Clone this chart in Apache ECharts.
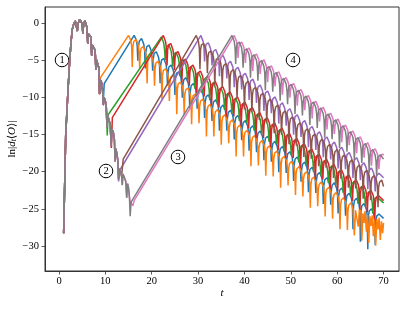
<!DOCTYPE html>
<html><head><meta charset="utf-8">
<script src="https://cdn.jsdelivr.net/npm/echarts@6/dist/echarts.min.js"></script>
<style>html,body{margin:0;padding:0;background:#fff}#c{width:407px;height:309px}</style>
</head><body><div id="c"></div>
<script>
// ---- data ----
const xTicks = [0, 10, 20, 30, 40, 50, 60, 70];
const yTicks = [-30, -25, -20, -15, -10, -5, 0];

// common early curve (drawn in grey on top)
const commonPath = [
[1.0,-28.3],[1.2,-22.5],[1.45,-15.0],[1.9,-9.5],[2.3,-5.0],[2.6,-2.5],[2.85,-0.8],[3.2,0.0],[3.5,0.35],[3.8,0.1],[3.95,-1.0],[4.1,0.0],[4.45,0.55],[4.75,0.6],[5.0,0.0],[5.15,-1.4],[5.3,-0.1],[5.6,0.4],[5.85,0.2],[6.05,-0.6],[6.2,-2.7],[6.35,-1.4],[6.65,-1.2],[6.9,-1.8],[7.05,-4.3],[7.2,-2.9],[7.5,-2.8],[7.8,-3.6],[7.95,-6.2],[8.1,-4.9],[8.35,-5.0],[8.6,-6.0],[8.75,-9.5],[8.9,-7.6],[9.15,-7.9],[9.4,-9.0],[9.55,-11.0],[9.7,-10.0],[9.95,-10.3],[10.2,-11.3],[10.35,-14.0],[10.5,-12.4],[10.8,-12.6],[11.05,-13.6],[11.25,-16.5],[11.4,-14.3],[11.7,-14.6],[11.95,-15.7],[12.1,-18.6],[12.25,-16.9],[12.5,-17.6],[12.7,-18.6],[12.85,-21.0],[13.0,-19.6],[13.25,-20.0],[13.5,-20.6],[13.65,-21.8],[13.8,-20.3],[14.1,-20.4],[14.4,-21.3],[14.6,-23.5],[14.8,-21.6],[15.0,-22.2],[15.2,-23.5],[15.35,-26.0]
];

// branch points where each run leaves the common curve, the peak, then arcs [tTop, yTop, cuspDrop]
const blueBranch = [[9.55,-10.6],[9.75,-8.1]];
const bluePeak = [16.2,-1.6];
const blueArcs = [[17.8,-2.0,3.2],[19.4,-2.9,3.6],[21.0,-3.8,3.0],[22.6,-4.7,3.8],[24.2,-5.6,3.2],[25.8,-6.5,3.6],[27.4,-7.3,3.1],[29.0,-8.1,3.7],[30.6,-8.9,3.0],[32.2,-9.6,3.5],[33.8,-10.3,3.2],[35.4,-11.0,3.8],[37.0,-11.7,3.1],[38.6,-12.4,3.6],[40.2,-13.1,3.0],[41.8,-13.8,3.7],[43.4,-14.5,3.2],[45.0,-15.2,3.6],[46.6,-15.9,3.1],[48.2,-16.6,3.8],[49.8,-17.3,3.2],[51.4,-18.0,3.6],[53.0,-18.7,3.0],[54.6,-19.4,3.7],[56.2,-20.1,3.1],[57.8,-20.8,3.9],[59.4,-21.5,3.3],[61.0,-22.2,3.8],[62.6,-22.9,3.4],[64.2,-23.6,4.5],[65.8,-24.3,5.5],[67.4,-25.0,5.8],[69.0,-25.7,4.5]];
const blueTail = [[70.0,-26.3]];

const orangeBranch = [[8.75,-9.6],[8.95,-7.3]];
const orangePeak = [15.0,-1.6];
const orangeArcs = [[16.6,-2.1,4.0],[18.2,-3.1,3.5],[19.8,-4.1,4.5],[21.4,-5.1,3.8],[23.0,-6.1,4.6],[24.6,-7.0,3.9],[26.2,-7.9,4.8],[27.8,-8.7,4.0],[29.4,-9.5,4.5],[31.0,-10.2,3.6],[32.6,-10.9,4.7],[34.2,-11.6,4.0],[35.8,-12.3,4.4],[37.4,-13.0,3.5],[39.0,-13.7,4.6],[40.6,-14.4,3.9],[42.2,-15.1,4.5],[43.8,-15.8,3.7],[45.4,-16.5,4.4],[47.0,-17.2,3.8],[48.6,-17.9,4.6],[50.2,-18.6,3.6],[51.8,-19.3,4.2],[53.4,-20.0,3.7],[55.0,-20.7,4.5],[56.6,-21.4,3.6],[58.2,-22.1,4.3],[59.8,-22.8,3.9],[61.4,-23.5,4.6],[63.0,-24.2,4.0]];
const orangeTail = [[63.4,-25.0],[63.7,-28.6],[63.95,-25.2],[64.3,-25.1],[64.55,-27.4],[64.8,-25.0],[65.1,-25.4],[65.3,-29.3],[65.55,-25.6],[65.8,-26.9],[66.0,-25.3],[66.3,-28.1],[66.55,-25.8],[66.8,-29.6],[67.05,-26.0],[67.3,-27.3],[67.55,-25.9],[67.8,-28.7],[68.05,-26.3],[68.3,-30.0],[68.55,-26.4],[68.8,-27.8],[69.05,-26.2],[69.3,-29.2],[69.55,-26.7],[69.8,-28.3],[70.0,-26.9]];

const greenBranch = [[10.4,-15.1],[10.6,-12.3]];
const greenPeak = [22.1,-1.8];
const greenArcs = [[23.7,-2.9,2.6],[25.3,-3.9,2.4],[26.9,-4.9,2.7],[28.5,-5.8,2.3],[30.1,-6.6,2.6],[31.7,-7.3,2.4],[33.3,-8.0,2.7],[34.9,-8.7,2.3],[36.5,-9.4,2.6],[38.1,-10.1,2.4],[39.7,-10.8,2.7],[41.3,-11.5,2.3],[42.9,-12.2,2.6],[44.5,-12.9,2.4],[46.1,-13.6,2.7],[47.7,-14.3,2.3],[49.3,-15.0,2.6],[50.9,-15.7,2.4],[52.5,-16.4,2.7],[54.1,-17.1,2.3],[55.7,-17.8,2.6],[57.3,-18.5,2.4],[58.9,-19.2,2.7],[60.5,-19.9,2.3],[62.1,-20.6,2.6],[63.7,-21.3,2.4],[65.3,-22.0,2.7],[66.9,-22.7,2.3],[68.5,-23.4,2.6]];
const greenTail = [[70.0,-24.2]];

const redBranch = [[11.3,-16.8],[11.5,-12.7]];
const redPeak = [22.5,-1.6];
const redArcs = [[24.1,-2.7,3.5],[25.7,-3.8,3.0],[27.3,-4.8,3.6],[28.9,-5.6,3.2],[30.5,-6.4,3.8],[32.1,-7.1,3.1],[33.7,-7.8,3.6],[35.3,-8.5,3.2],[36.9,-9.2,3.7],[38.5,-9.9,3.0],[40.1,-10.6,3.6],[41.7,-11.3,3.2],[43.3,-12.0,3.8],[44.9,-12.7,3.1],[46.5,-13.4,3.6],[48.1,-14.1,3.3],[49.7,-14.8,3.7],[51.3,-15.5,3.0],[52.9,-16.2,3.6],[54.5,-16.9,3.2],[56.1,-17.6,3.8],[57.7,-18.3,3.1],[59.3,-19.0,3.6],[60.9,-19.7,3.3],[62.5,-20.4,3.7],[64.1,-21.1,3.2],[65.7,-21.8,3.6],[67.3,-22.5,3.3],[68.9,-23.2,3.6]];
const redTail = [[70.0,-23.9]];

const purpleBranch = [[12.85,-21.3],[13.1,-19.8]];
const purplePeak = [30.6,-1.6];
const purpleArcs = [[32.2,-2.6,3.0],[33.8,-3.5,2.6],[35.4,-4.3,3.2],[37.0,-5.1,2.7],[38.6,-5.9,3.1],[40.2,-6.7,2.6],[41.8,-7.5,3.2],[43.4,-8.3,2.8],[45.0,-9.1,3.1],[46.6,-9.9,2.6],[48.2,-10.7,3.2],[49.8,-11.5,2.7],[51.4,-12.3,3.1],[53.0,-13.1,2.6],[54.6,-13.9,3.2],[56.2,-14.6,2.8],[57.8,-15.3,3.1],[59.4,-16.0,2.7],[61.0,-16.7,3.2],[62.6,-17.4,2.6],[64.2,-18.1,3.1],[65.8,-18.8,2.7],[67.4,-19.5,3.2],[69.0,-20.2,2.8]];
const purpleTail = [[70.0,-20.8]];

const brownBranch = [[13.65,-20.8],[13.85,-18.3]];
const brownPeak = [29.6,-1.6];
const brownArcs = [[31.2,-2.7,4.0],[32.8,-3.7,3.5],[34.4,-4.6,4.2],[36.0,-5.4,3.6],[37.6,-6.2,4.1],[39.2,-7.0,3.5],[40.8,-7.8,4.2],[42.4,-8.6,3.7],[44.0,-9.4,4.0],[45.6,-10.2,3.5],[47.2,-11.0,4.2],[48.8,-11.8,3.6],[50.4,-12.6,4.1],[52.0,-13.4,3.5],[53.6,-14.2,4.2],[55.2,-14.9,3.7],[56.8,-15.6,4.0],[58.4,-16.3,3.5],[60.0,-17.0,4.2],[61.6,-17.7,3.6],[63.2,-18.4,4.1],[64.8,-19.1,3.5],[66.4,-19.8,4.2],[68.0,-20.5,3.7],[69.6,-21.1,4.0]];
const brownTail = [[70.0,-22.0]];

const pinkBranch = [[15.3,-23.9],[15.95,-24.6],[16.2,-23.9]];
const pinkPeak = [37.8,-1.6];
const pinkArcs = [[39.4,-2.5,2.6],[41.0,-3.3,2.4],[42.6,-4.1,2.7],[44.2,-4.9,2.3],[45.8,-5.7,2.6],[47.4,-6.5,2.4],[49.0,-7.3,2.7],[50.6,-8.1,2.3],[52.2,-8.9,2.6],[53.8,-9.7,2.4],[55.4,-10.5,2.7],[57.0,-11.3,2.3],[58.6,-12.1,2.6],[60.2,-12.9,2.4],[61.8,-13.7,2.7],[63.4,-14.5,2.3],[65.0,-15.3,2.6],[66.6,-16.1,2.4],[68.2,-16.9,2.7],[69.8,-17.6,2.4]];
const pinkTail = [[70.0,-17.8]];

const grayBranch = [[15.55,-24.1]];
const grayPeak = [37.3,-1.6];
const grayArcs = [[38.9,-2.5,3.4],[40.5,-3.4,3.0],[42.1,-4.2,3.5],[43.7,-5.0,3.1],[45.3,-5.8,3.6],[46.9,-6.6,3.0],[48.5,-7.4,3.4],[50.1,-8.2,3.1],[51.7,-9.0,3.6],[53.3,-9.8,3.0],[54.9,-10.6,3.5],[56.5,-11.4,3.1],[58.1,-12.2,3.6],[59.7,-13.0,3.0],[61.3,-13.8,3.4],[62.9,-14.6,3.1],[64.5,-15.4,3.5],[66.1,-16.2,3.0],[67.7,-17.0,3.5],[69.3,-17.7,3.2]];
const grayTail = [[70.0,-18.3]];

// ---- build polylines (arc glyph between consecutive read tops) ----
function arcPts(p0, a) {
  const t0 = p0[0], y0 = p0[1], t1 = a[0], y1 = a[1], d = a[2], w = t1 - t0;
  const L = f => y0 + (y1 - y0) * f;
  return [[t0+0.3*w, L(0.3)-0.5],[t0+0.42*w, L(0.42)-1.3],[t0+0.5*w, L(0.5)-d],
          [t0+0.58*w, L(0.58)-1.3],[t0+0.7*w, L(0.7)-0.5],[t1, y1]];
}
function build(branch, peak, arcs, tail) {
  const cut = branch[0][0];
  const pts = commonPath.filter(p => p[0] < cut).map(p => p.slice());
  branch.forEach(p => pts.push(p));
  pts.push(peak);
  let prev = peak;
  arcs.forEach(a => { arcPts(prev, a).forEach(p => pts.push(p)); prev = a; });
  tail.forEach(p => pts.push(p));
  return pts;
}
const runs = [
  ['#1f77b4', build(blueBranch, bluePeak, blueArcs, blueTail)],
  ['#ff7f0e', build(orangeBranch, orangePeak, orangeArcs, orangeTail)],
  ['#2ca02c', build(greenBranch, greenPeak, greenArcs, greenTail)],
  ['#d62728', build(redBranch, redPeak, redArcs, redTail)],
  ['#9467bd', build(purpleBranch, purplePeak, purpleArcs, purpleTail)],
  ['#8c564b', build(brownBranch, brownPeak, brownArcs, brownTail)],
  ['#e377c2', build(pinkBranch, pinkPeak, pinkArcs, pinkTail)],
  ['#7f7f7f', build(grayBranch, grayPeak, grayArcs, grayTail)]
];

const FONT = '"Liberation Serif","DejaVu Serif",serif';
const fmt = v => (v < 0 ? '\u2212' : '') + Math.abs(v);
const chart = echarts.init(document.getElementById('c'), null, {renderer: 'canvas'});

function circ(n, x, y) {
  return {type: 'group', x: x, y: y, children: [
    {type: 'circle', shape: {cx: 0, cy: 0, r: 6.8}, style: {fill: 'none', stroke: '#000', lineWidth: 1.0}},
    {type: 'text', x: 0, y: 0.5, style: {text: String(n), align: 'center', verticalAlign: 'middle', fontFamily: FONT, fontSize: 10.5, fill: '#000'}}
  ]};
}

chart.setOption({
  animation: false,
  backgroundColor: '#fff',
  grid: {left: 45, right: 8, top: 7, bottom: 38, show: true, borderColor: '#333', borderWidth: 1,
         containLabel: false, outerBoundsMode: 'none'},
  xAxis: {
    type: 'value', min: -3.02, max: 73.33,
    axisLine: {show: true, onZero: false, lineStyle: {color: '#333', width: 1}},
    axisTick: {show: true, inside: false, length: 3.5, customValues: xTicks, lineStyle: {color: '#333', width: 0.8}},
    axisLabel: {customValues: xTicks, formatter: fmt, fontFamily: FONT, fontSize: 10.5, color: '#000', margin: 5},
    splitLine: {show: false},
    name: 't', nameLocation: 'middle', nameGap: 17, nameMoveOverlap: false,
    nameTextStyle: {fontFamily: FONT, fontStyle: 'italic', fontSize: 11, color: '#000'}
  },
  yAxis: {
    type: 'value', min: -33.4, max: 2.24,
    axisLine: {show: true, onZero: false, lineStyle: {color: '#333', width: 1}},
    axisTick: {show: true, inside: false, length: 3.5, customValues: yTicks, lineStyle: {color: '#333', width: 0.8}},
    axisLabel: {customValues: yTicks, formatter: fmt, fontFamily: FONT, fontSize: 10.5, color: '#000', margin: 6},
    splitLine: {show: false},
    name: '{a|ln|}{i|d}{s|t}{a|\u27e8}{i|O}{a|\u27e9|}', nameLocation: 'middle', nameRotate: 90, nameGap: 27, nameMoveOverlap: false,
    nameTextStyle: {fontFamily: FONT, fontSize: 11, color: '#000', rich: {
      a: {fontFamily: FONT, fontSize: 11, color: '#000'},
      i: {fontFamily: FONT, fontSize: 11, fontStyle: 'italic', color: '#000'},
      s: {fontFamily: FONT, fontSize: 7.5, fontStyle: 'italic', color: '#000', verticalAlign: 'bottom', lineHeight: 9}
    }}
  },
  series: runs.map(r => ({
    type: 'line', data: r[1], showSymbol: false, symbol: 'none', silent: true,
    lineStyle: {color: r[0], width: 1.5}, itemStyle: {color: r[0]}, clip: true
  })),
  graphic: [circ(1, 62, 60), circ(2, 106, 171), circ(3, 178, 157), circ(4, 293, 60)]
});
</script></body></html>
